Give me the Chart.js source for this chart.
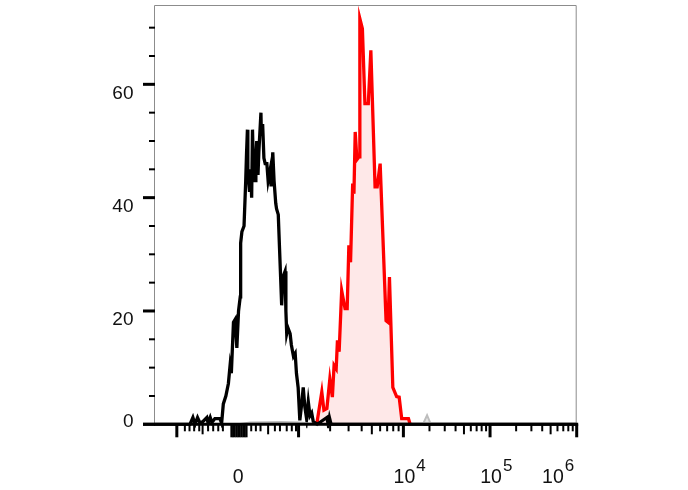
<!DOCTYPE html>
<html>
<head>
<meta charset="utf-8">
<script src="https://cdn.jsdelivr.net/npm/chart.js@4.4.1/dist/chart.umd.min.js"></script>
<style>
  html, body { margin: 0; padding: 0; background: #fff; }
  #wrap { width: 688px; height: 490px; position: relative; }
</style>
</head>
<body>
<div id="wrap"><canvas id="c"></canvas></div>
<script>
// ---- Data (x in display channel units 0..1000 of the biexponential axis, y = count) ----
const blackX = [0, 85, 92, 97, 103, 109, 116, 125, 128, 133, 137, 144, 151, 156, 160, 164, 170, 176, 180, 183,
  188, 192, 196, 200, 204, 205, 208, 213, 217, 219, 221, 222, 226, 229, 231, 233, 235, 239, 241, 243,
  246, 248, 253, 254, 257, 260, 263, 267, 270, 275, 277, 281, 284, 288, 290, 294, 297, 299, 302, 305,
  310, 312, 314, 317, 322, 325, 330, 334, 337, 341, 345, 350, 353, 357, 361, 365, 369, 373, 377, 381,
  386, 409, 412, 415, 419, 424, 1000];
const blackY = [0, 0, 1.2, 0, 1.2, 0.2, 0.5, 1.2, 0.2, 1.2, 0.3, 1, 1, 1, 0.2, 3.6, 5, 7.2, 10.4, 9,
  18, 18.5, 13.5, 20, 22.5, 32, 34, 35, 43, 48, 52, 45, 41, 45, 40, 52, 46, 43, 47, 50,
  44, 48, 55, 51, 53, 47, 46, 46, 43, 45, 42, 48, 43, 39, 38, 37, 31, 27, 21, 26,
  27, 20, 16, 17, 16, 14, 12, 12.5, 9, 6.5, 0.7, 4, 6.5, 3, 1, 4, 1.5, 2, 0.4, 0.3,
  0, 1.2, 0, 1.2, 0, 0, 0];

const redX = [385, 397, 402, 409, 416, 422, 426, 431, 434, 438, 444, 452, 457, 461, 465, 470, 473, 476, 480, 485,
  487, 493, 499, 507, 513, 523, 528, 535, 549, 554, 557, 565, 574, 580, 586, 590, 602, 606];
const redY = [0, 5.7, 2.5, 2.8, 8, 4.8, 10.4, 9.8, 14.8, 12.8, 23.6, 20.4, 20.4, 31.6, 28.6, 42.5, 40.7, 51.6, 46.7, 47.2,
  71.6, 69.8, 56.6, 56.6, 66, 41.9, 41.9, 46, 18.3, 18, 26, 6.5, 4.9, 4.8, 1, 1, 1, 0];

const grayX = [0, 200, 227, 300, 345, 385, 636, 646, 655, 1000];
const grayY = [0, 0, 0.3, 0.4, 0.3, 0, 0, 1.6, 0, 0];

// ---- Axis ticks ----
const yMajorTicks = [0, 20, 40, 60];
const yMinorTicks = [5, 10, 15, 25, 30, 35, 45, 50, 55, 65, 70];
const yTickLabels = ['0', '20', '40', '60'];

const xDecadePos = [342, 590, 795, 1000];          // 10^3, 10^4, 10^5, 10^6
const xNegDecadePos = [54];                          // -10^3
const xLinearMinor = [73, 84, 95, 107, 128, 140, 152, 163, 230, 241, 252, 286, 298, 314, 326, 336];
const xLinearMedium = [115, 270];
const xZeroBlock = [183, 187, 191, 195, 199, 203, 207, 211, 215, 219];

const xLabelPos = [199, 590, 795, 1000];
const xLabelBase = ['0', '10', '10', '10'];
const xLabelExp = ['', '4', '5', '6'];

const toPts = (xs, ys) => xs.map((v, i) => ({ x: v, y: ys[i] }));

const axesPlugin = {
  id: 'flowAxes',
  afterDatasetsDraw(chart) {
    const { ctx, chartArea: a, scales: { x, y } } = chart;
    ctx.save();
    // thin frame
    ctx.strokeStyle = '#8c8c8c';
    ctx.lineWidth = 1;
    ctx.beginPath();
    ctx.moveTo(a.left + 0.5, a.bottom);
    ctx.lineTo(a.left + 0.5, a.top + 0.5);
    ctx.lineTo(a.right - 0.5, a.top + 0.5);
    ctx.lineTo(a.right - 0.5, a.bottom);
    ctx.stroke();

    ctx.strokeStyle = '#000';
    ctx.lineCap = 'butt';
    // x axis line
    ctx.lineWidth = 3;
    ctx.beginPath();
    ctx.moveTo(a.left - 11, a.bottom);
    ctx.lineTo(a.right + 1.5, a.bottom);
    ctx.stroke();

    const xt = (v, len, w) => {
      const px = x.getPixelForValue(v);
      ctx.lineWidth = w;
      ctx.beginPath();
      ctx.moveTo(px, a.bottom);
      ctx.lineTo(px, a.bottom + len);
      ctx.stroke();
    };
    const yt = (v, len, w) => {
      const py = y.getPixelForValue(v);
      ctx.lineWidth = w;
      ctx.beginPath();
      ctx.moveTo(a.left + 1, py);
      ctx.lineTo(a.left + 1 - len, py);
      ctx.stroke();
    };

    // x ticks
    xNegDecadePos.forEach(v => xt(v, 13, 3));
    xDecadePos.forEach(v => xt(v, 13, 3));
    xLinearMinor.forEach(v => xt(v, 7, 2));
    xLinearMedium.forEach(v => xt(v, 10, 2));
    xZeroBlock.forEach(v => xt(v, 13, 2));
    for (let d = 0; d < xDecadePos.length - 1; d++) {
      const lo = xDecadePos[d], hi = xDecadePos[d + 1];
      for (let k = 2; k <= 9; k++) {
        const v = lo + (hi - lo) * Math.log10(k);
        xt(v, k === 5 ? 10 : 7, 2);
      }
    }
    // y ticks
    yMajorTicks.forEach(v => yt(v, 12, 3));
    yMinorTicks.forEach(v => yt(v, 6, 2));

    // y labels
    ctx.fillStyle = '#111';
    ctx.font = '19px "Liberation Sans", Arial, sans-serif';
    ctx.textAlign = 'right';
    ctx.textBaseline = 'alphabetic';
    yMajorTicks.forEach((v, i) => {
      const py = y.getPixelForValue(v);
      ctx.fillText(yTickLabels[i], a.left - 20.5, v === 0 ? py + 3 : py + 14.3);
    });

    // x labels with superscript exponents
    const baseFont = '19.5px "Liberation Sans", Arial, sans-serif';
    const supFont = '17px "Liberation Sans", Arial, sans-serif';
    const baseLine = a.bottom + 58.7;
    ctx.textAlign = 'left';
    xLabelPos.forEach((v, i) => {
      const px = x.getPixelForValue(v);
      ctx.font = baseFont;
      const bw = ctx.measureText(xLabelBase[i]).width;
      ctx.font = supFont;
      const sw = xLabelExp[i] ? ctx.measureText(xLabelExp[i]).width + 1 : 0;
      let left = px - bw / 2 + (xLabelExp[i] ? 1 : 0);
      const right = left + bw + sw;
      if (right > a.right - 2.5) left -= right - (a.right - 2.5);
      ctx.font = baseFont;
      ctx.fillText(xLabelBase[i], left, baseLine);
      if (xLabelExp[i]) {
        ctx.font = supFont;
        ctx.fillText(xLabelExp[i], left + bw + 1, baseLine - 12);
      }
    });
    ctx.restore();
  }
};

new Chart(document.getElementById('c'), {
  type: 'line',
  data: {
    datasets: [
      {
        label: 'gray',
        data: toPts(grayX, grayY),
        borderColor: '#bdbdbd',
        borderWidth: 2,
        backgroundColor: 'rgba(190,190,190,0.4)',
        fill: 'origin',
        pointRadius: 0,
        tension: 0,
        clip: 4
      },
      {
        label: 'black',
        data: toPts(blackX, blackY),
        borderColor: '#000',
        borderWidth: 3.3,
        fill: false,
        pointRadius: 0,
        tension: 0,
        borderJoinStyle: 'miter',
        clip: 4
      },
      {
        label: 'red',
        data: toPts(redX, redY),
        borderColor: '#ff0000',
        borderWidth: 3.3,
        backgroundColor: 'rgba(245,0,0,0.09)',
        fill: 'origin',
        pointRadius: 0,
        tension: 0,
        borderJoinStyle: 'miter',
        clip: 4
      }
    ]
  },
  options: {
    responsive: true,
    maintainAspectRatio: false,
    animation: false,
    layout: { padding: { left: 154, right: 111.3, top: 5, bottom: 65.7 } },
    plugins: { legend: { display: false }, tooltip: { enabled: false } },
    scales: {
      x: { type: 'linear', min: 0, max: 1000, display: false },
      y: { type: 'linear', min: 0, max: 74, display: false }
    }
  },
  plugins: [axesPlugin]
});
</script>
</body>
</html>
